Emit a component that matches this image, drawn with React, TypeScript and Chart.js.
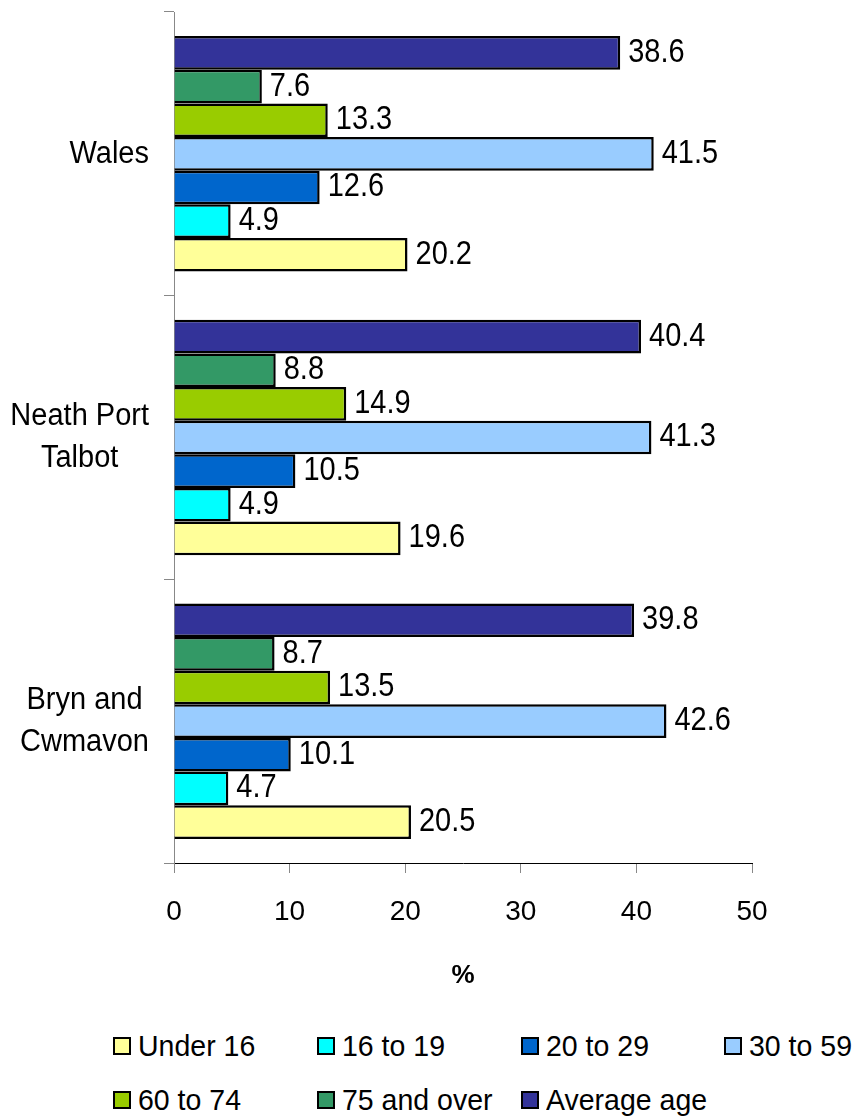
import React, { useEffect, useRef } from "react";
import { Chart, registerables } from "chart.js";

Chart.register(...registerables);

const categories: string[][] = [["Wales"], ["Neath Port", "Talbot"], ["Bryn and", "Cwmavon"]];

const seriesNames = ["Under 16", "16 to 19", "20 to 29", "30 to 59", "60 to 74", "75 and over", "Average age"];
const seriesColors = ["#FFFF99", "#00FFFF", "#0066CC", "#99CCFF", "#99CC00", "#339966", "#333399"];

const under16 = [20.2, 19.6, 20.5];
const age16to19 = [4.9, 4.9, 4.7];
const age20to29 = [12.6, 10.5, 10.1];
const age30to59 = [41.5, 41.3, 42.6];
const age60to74 = [13.3, 14.9, 13.5];
const age75over = [7.6, 8.8, 8.7];
const averageAge = [38.6, 40.4, 39.8];

const seriesValues = [under16, age16to19, age20to29, age30to59, age60to74, age75over, averageAge];

const xTicks = [0, 10, 20, 30, 40, 50];

const FONT = "'Liberation Sans', Arial, sans-serif";

const valueLabels = {
  id: "valueLabels",
  afterDatasetsDraw(chart: any) {
    const ctx = chart.ctx;
    ctx.save();
    ctx.font = `29px ${FONT}`;
    ctx.fillStyle = "#000";
    ctx.textAlign = "left";
    ctx.textBaseline = "middle";
    chart.data.datasets.forEach((ds: any, di: number) => {
      const meta = chart.getDatasetMeta(di);
      meta.data.forEach((el: any, i: number) => {
        const v = ds.data[i];
        ctx.save();
        ctx.translate(el.x + 8, el.y);
        ctx.scale(1, 1.12);
        ctx.fillText(Number(v).toFixed(1), 0, 0);
        ctx.restore();
      });
    });
    ctx.restore();
  },
};

const categoryLabels = {
  id: "categoryLabels",
  afterDraw(chart: any) {
    const ctx = chart.ctx;
    const yScale = chart.scales.y;
    const rightEdge = 149;
    const lineGap = 42;
    ctx.save();
    ctx.font = `29px ${FONT}`;
    ctx.fillStyle = "#000";
    ctx.textAlign = "center";
    ctx.textBaseline = "middle";
    (chart.data.labels as string[][]).forEach((lines, i) => {
      const cy = yScale.getPixelForValue(i);
      const w = Math.max(...lines.map((l) => ctx.measureText(l).width));
      const cx = rightEdge - w / 2;
      lines.forEach((line, li) => {
        const ly = cy + (li - (lines.length - 1) / 2) * lineGap;
        ctx.save();
        ctx.translate(cx, ly);
        ctx.scale(1, 1.1);
        ctx.fillText(line, 0, 0);
        ctx.restore();
      });
    });
    ctx.restore();
  },
};

export default function App() {
  const ref = useRef<HTMLCanvasElement | null>(null);

  useEffect(() => {
    if (!ref.current) return;
    // datasets in reverse so "Average age" is on top within each group
    const order = [6, 5, 4, 3, 2, 1, 0];
    const chart = new Chart(ref.current, {
      type: "bar",
      data: {
        labels: categories as any,
        datasets: order.map((k) => ({
          label: seriesNames[k],
          data: seriesValues[k],
          backgroundColor: seriesColors[k],
          borderColor: "#000",
          borderWidth: 2.5,
          barPercentage: 1,
          categoryPercentage: 0.83,
        })),
      },
      options: {
        indexAxis: "y",
        animation: false,
        responsive: false,
        devicePixelRatio: 1,
        layout: { padding: { left: 0, right: 108, top: 12, bottom: 0 } },
        plugins: {
          legend: { display: false },
          tooltip: { enabled: false },
        },
        scales: {
          x: {
            min: 0,
            max: 50,
            afterBuildTicks: (scale: any) => {
              scale.ticks = xTicks.map((v) => ({ value: v }));
            },
            afterFit: (scale: any) => {
              scale.height = 137;
            },
            border: { color: "#000", width: 1 },
            grid: { drawOnChartArea: false, drawTicks: true, tickLength: 10, color: "#888" },
            ticks: { color: "#000", padding: 22, font: { family: FONT, size: 28 } },
            title: {
              display: true,
              text: "%",
              color: "#000",
              font: { family: FONT, size: 26, weight: "bold" },
              padding: { top: 4, bottom: 9 },
            },
          },
          y: {
            offset: true,
            afterFit: (scale: any) => {
              scale.width = 174;
              scale.paddingTop = 0;
              scale.paddingBottom = 0;
            },
            border: { color: "#888", width: 1 },
            grid: { offset: true, drawOnChartArea: false, drawTicks: true, tickLength: 10, color: "#888" },
            ticks: { display: false },
          },
        },
      },
      plugins: [valueLabels, categoryLabels],
    } as any);
    return () => chart.destroy();
  }, []);

  const legendPos = [
    { left: 113, top: 1046 },
    { left: 317, top: 1046 },
    { left: 521, top: 1046 },
    { left: 724, top: 1046 },
    { left: 113, top: 1100 },
    { left: 317, top: 1100 },
    { left: 521, top: 1100 },
  ];

  return (
    <div style={{ position: "absolute", left: 0, top: 0, width: 860, height: 1119, background: "#fff", overflow: "hidden" }}>
      <canvas ref={ref} width={860} height={1000} style={{ display: "block", width: 860, height: 1000 }} />
      {seriesNames.map((name, i) => (
        <div
          key={name}
          style={{
            position: "absolute",
            left: legendPos[i].left,
            top: legendPos[i].top - 18,
            height: 36,
            display: "flex",
            alignItems: "center",
            fontFamily: FONT,
            fontSize: 28.5,
            lineHeight: "36px",
            color: "#000",
            whiteSpace: "nowrap",
          }}
        >
          <span
            style={{
              display: "inline-block",
              width: 14,
              height: 14,
              background: seriesColors[i],
              border: "2px solid #000",
              marginRight: 7,
              flex: "none",
            }}
          />
          <span style={{ display: "inline-block", transform: "scaleY(1.05)" }}>{name}</span>
        </div>
      ))}
    </div>
  );
}
